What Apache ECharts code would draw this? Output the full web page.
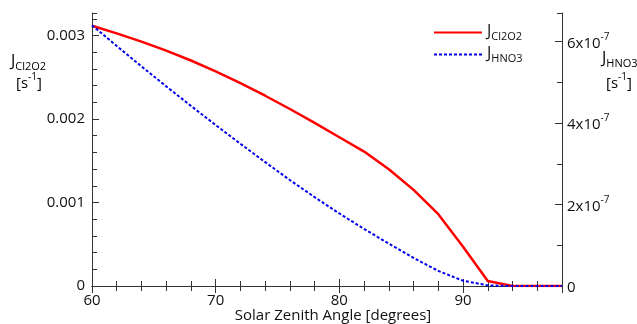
<!DOCTYPE html>
<html>
<head>
<meta charset="utf-8">
<script src="https://cdn.jsdelivr.net/npm/echarts@6/dist/echarts.min.js"></script>
<style>
  html, body { margin: 0; padding: 0; background: #fff; }
  #chart { width: 637px; height: 324px; }
</style>
</head>
<body>
<div id="chart"></div>
<script>
// Solar zenith angle (degrees)
const angles = [60, 62, 64, 66, 68, 70, 72, 74, 76, 78, 80, 82, 84, 86, 88, 90, 92, 94, 96, 98];
// Photolysis rate of Cl2O2 (s^-1), left axis
const jCl2O2 = [3.118e-3, 3.026e-3, 2.927e-3, 2.819e-3, 2.701e-3, 2.572e-3, 2.430e-3, 2.279e-3, 2.120e-3, 1.953e-3,
                1.782e-3, 1.610e-3, 1.399e-3, 1.151e-3, 0.860e-3, 0.471e-3, 0.060e-3, 0, 0, 0];
// Photolysis rate of HNO3 (s^-1), right axis
const jHNO3 = [6.40e-7, 5.89e-7, 5.39e-7, 4.90e-7, 4.42e-7, 3.95e-7, 3.49e-7, 3.04e-7, 2.60e-7, 2.18e-7,
               1.78e-7, 1.40e-7, 1.04e-7, 0.69e-7, 0.37e-7, 0.13e-7, 0.015e-7, 0, 0, 0];

// Axis ranges and tick labels
const xRange = [60, 98];
const leftRange = [0, 0.00327];
const rightRange = [0, 6.7e-7];
const leftTickLabels = ['0', '0.001', '0.002', '0.003'];
const rightTickMantissas = ['0', '2', '4', '6'];
const rightTickExponent = '-7';

const FONT = '"Open Sans", "Noto Sans", sans-serif';
const AXIS_COLOR = '#333';
const TEXT_COLOR = '#111';

const supRich = {
  b: { fontSize: 15, fontFamily: FONT, color: TEXT_COLOR, verticalAlign: 'top', padding: [4, 0, 0, 0] },
  p: { fontSize: 10, fontFamily: FONT, color: TEXT_COLOR, verticalAlign: 'top', padding: [0, 0, 0, 0] }
};
const subRich = {
  j: { fontSize: 16, fontFamily: FONT, color: TEXT_COLOR, verticalAlign: 'top', padding: [0, 0, 0, 0] },
  s: { fontSize: 11, fontFamily: FONT, color: TEXT_COLOR, verticalAlign: 'top', padding: [8, 0, 0, 0] }
};

const seriesNames = { cl2o2: 'JCl2O2', hno3: 'JHNO3' };
const legendText = {
  JCl2O2: '{j|J}{s|Cl2O2}',
  JHNO3: '{j|J}{s|HNO3}'
};

function mainX(position) {
  return {
    type: 'value', position: position, min: xRange[0], max: xRange[1], interval: 10,
    axisLine: { show: true, lineStyle: { color: AXIS_COLOR, width: 1 } },
    axisTick: { show: true, inside: true, length: 7, lineStyle: { color: AXIS_COLOR } },
    axisLabel: {
      show: position === 'bottom', showMaxLabel: false, margin: 7,
      fontSize: 15, fontFamily: FONT, color: TEXT_COLOR
    },
    splitLine: { show: false }
  };
}
function minorX(position) {
  return {
    type: 'value', position: position, min: xRange[0], max: xRange[1], interval: 2,
    axisLine: { show: false },
    axisTick: { show: true, inside: true, length: 5, lineStyle: { color: AXIS_COLOR } },
    axisLabel: { show: false },
    splitLine: { show: false }
  };
}

const chart = echarts.init(document.getElementById('chart'), null, { renderer: 'canvas' });

chart.setOption({
  animation: false,
  backgroundColor: '#fff',
  grid: { left: 92, right: 75, top: 13, bottom: 38, containLabel: false, outerBoundsMode: 'none' },
  xAxis: [
    Object.assign(mainX('bottom'), {
      name: 'Solar Zenith Angle [degrees]', nameLocation: 'middle', nameGap: 22, nameMoveOverlap: false,
      nameTextStyle: { fontSize: 15, fontFamily: FONT, color: TEXT_COLOR, padding: [0, 0, 0, 12] }
    }),
    minorX('bottom'),
    mainX('top'),
    minorX('top')
  ],
  yAxis: [
    {
      type: 'value', position: 'left', min: leftRange[0], max: leftRange[1], interval: 0.001,
      axisLine: { show: true, lineStyle: { color: AXIS_COLOR, width: 1 } },
      axisTick: { show: true, inside: true, length: 7, lineStyle: { color: AXIS_COLOR } },
      axisLabel: {
        showMaxLabel: false, margin: 7, fontSize: 15, fontFamily: FONT, color: TEXT_COLOR,
        formatter: function (v) {
          const i = Math.round(v / 0.001);
          return leftTickLabels[i] !== undefined ? leftTickLabels[i] : '';
        }
      },
      splitLine: { show: false }
    },
    {
      type: 'value', position: 'left', min: leftRange[0], max: leftRange[1], interval: 0.0002,
      axisLine: { show: false },
      axisTick: { show: true, inside: true, length: 5, lineStyle: { color: AXIS_COLOR } },
      axisLabel: { show: false },
      splitLine: { show: false }
    },
    {
      type: 'value', position: 'right', min: rightRange[0], max: rightRange[1], interval: 2e-7,
      axisLine: { show: true, lineStyle: { color: AXIS_COLOR, width: 1 } },
      axisTick: { show: true, inside: true, length: 7, lineStyle: { color: AXIS_COLOR } },
      axisLabel: {
        showMaxLabel: false, margin: 5, fontSize: 15, fontFamily: FONT, color: TEXT_COLOR,
        rich: supRich,
        formatter: function (v) {
          const i = Math.round(v / 2e-7);
          const m = rightTickMantissas[i];
          if (m === undefined) return '';
          if (m === '0') return '{b|0}';
          return '{b|' + m + 'x10}{p|' + rightTickExponent + '}';
        }
      },
      splitLine: { show: false }
    },
    {
      type: 'value', position: 'right', min: rightRange[0], max: rightRange[1], interval: 1e-7,
      axisLine: { show: false },
      axisTick: { show: true, inside: true, length: 5, lineStyle: { color: AXIS_COLOR } },
      axisLabel: { show: false },
      splitLine: { show: false }
    }
  ],
  legend: {
    orient: 'vertical', left: 428, top: 18, itemWidth: 48, itemHeight: 12, itemGap: 3,
    data: [seriesNames.cl2o2, seriesNames.hno3],
    itemStyle: { opacity: 0 },
    formatter: function (name) { return legendText[name]; },
    textStyle: { rich: subRich, padding: [0, 0, 0, 0] }
  },
  graphic: [
    {
      type: 'text', left: 11, top: 53,
      style: { text: '{j|J}{s|Cl2O2}', rich: subRich }
    },
    {
      type: 'text', left: 16, top: 72,
      style: { text: '{b|[s}{p|-1}{b|]}', rich: supRich }
    },
    {
      type: 'text', left: 602, top: 50,
      style: { text: '{j|J}{s|HNO3}', rich: subRich }
    },
    {
      type: 'text', left: 606, top: 72,
      style: { text: '{b|[s}{p|-1}{b|]}', rich: supRich }
    }
  ],
  series: [
    {
      name: seriesNames.cl2o2, type: 'line', xAxisIndex: 0, yAxisIndex: 0,
      data: angles.map(function (a, i) { return [a, jCl2O2[i]]; }),
      symbol: 'none', lineStyle: { color: '#ff0000', width: 2.5 }, itemStyle: { color: '#ff0000' },
      z: 2
    },
    {
      name: seriesNames.hno3, type: 'line', xAxisIndex: 0, yAxisIndex: 2,
      data: angles.map(function (a, i) { return [a, jHNO3[i]]; }),
      symbol: 'none', lineStyle: { color: '#0000ee', width: 2, type: [3, 2] }, itemStyle: { color: '#0000ee' },
      z: 3
    }
  ]
});
</script>
</body>
</html>
